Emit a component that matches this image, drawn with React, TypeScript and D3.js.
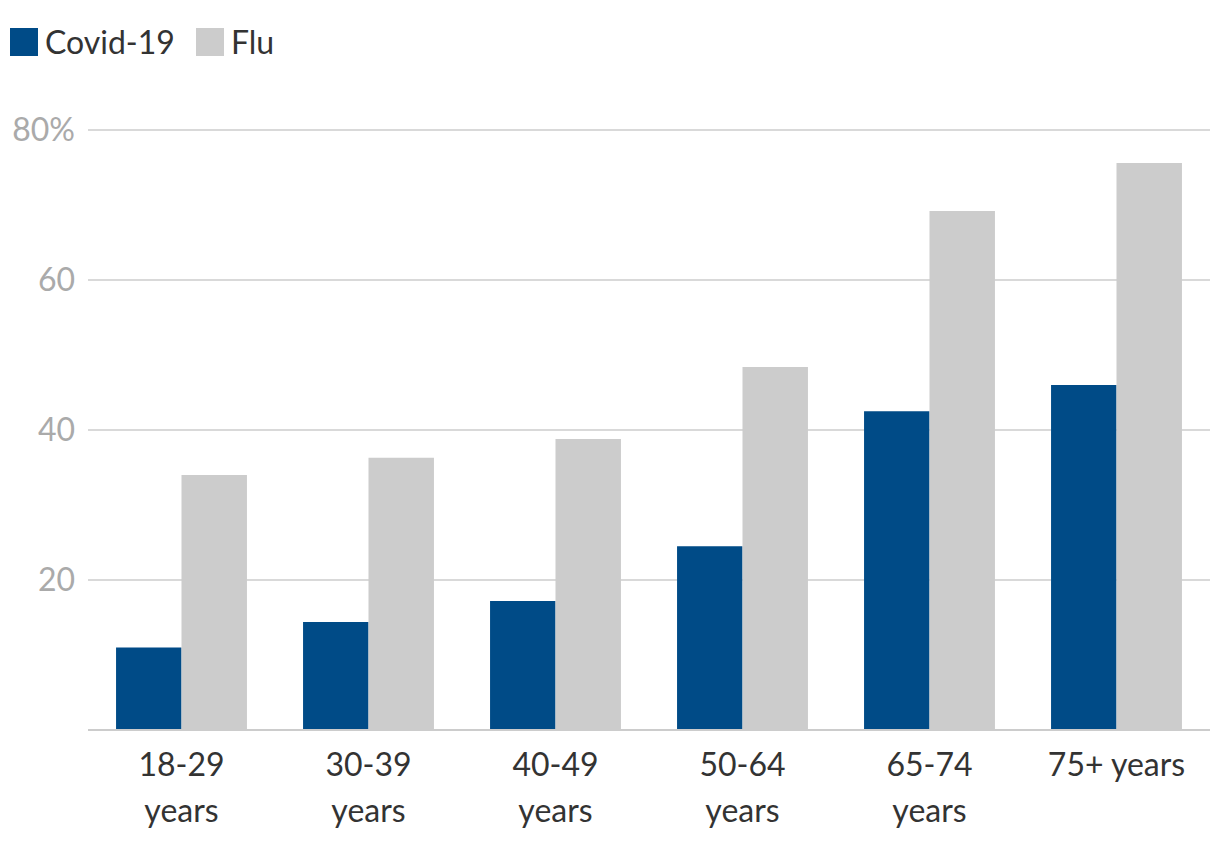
import React from "react";
import * as d3 from "d3";

const categories = ["18-29 years", "30-39 years", "40-49 years", "50-64 years", "65-74 years", "75+ years"];
const categoryLines = [["18-29", "years"], ["30-39", "years"], ["40-49", "years"], ["50-64", "years"], ["65-74", "years"], ["75+ years"]];
const seriesNames = ["Covid-19", "Flu"];
const covid = [11, 14.4, 17.2, 24.5, 42.5, 46];
const flu = [34, 36.3, 38.8, 48.4, 69.2, 75.6];
const yTicks = [20, 40, 60, 80];
const colors = ["#004b87", "#cccccc"];

const W = 1220, H = 854;
const FONT = "Lato, 'Source Sans Pro', sans-serif";
const FS = 32;

export default function App() {
  const left = 88, right = 1210, top = 130, bottom = 730;
  const x = d3.scaleBand<string>().domain(categories).range([left, right]).paddingInner(0.3).paddingOuter(0.15);
  const x1 = d3.scaleBand<string>().domain(seriesNames).range([0, x.bandwidth()]);
  const y = d3.scaleLinear().domain([0, 80]).range([bottom, top]);
  const series = [covid, flu];
  return (
    <svg width={W} height={H} style={{ position: "absolute", left: 0, top: 0, background: "#fff" }} fontFamily={FONT}>
      {yTicks.map((t) => (
        <g key={t}>
          <line x1={left} x2={right} y1={y(t)} y2={y(t)} stroke="#cccccc" strokeWidth={1.5} />
          <text x={75} y={y(t)} dy="0.35em" textAnchor="end" fontSize={FS} fill="#aaaaaa">
            {t === 80 ? "80%" : t}
          </text>
        </g>
      ))}
      {categories.map((c, i) => (
        <g key={c}>
          {series.map((s, j) => (
            <rect key={j} x={(x(c) as number) + (x1(seriesNames[j]) as number)} y={y(s[i])} width={x1.bandwidth()} height={bottom - y(s[i])} fill={colors[j]} />
          ))}
          <text x={(x(c) as number) + x.bandwidth() / 2} y={776} textAnchor="middle" fontSize={FS} fill="#333333">
            {categoryLines[i].map((l, k) => (
              <tspan key={k} x={(x(c) as number) + x.bandwidth() / 2} dy={k === 0 ? 0 : 46}>{l}</tspan>
            ))}
          </text>
        </g>
      ))}
      <line x1={left} x2={right} y1={bottom} y2={bottom} stroke="#cccccc" strokeWidth={2} />
      <g>
        <rect x={10} y={28} width={28} height={28} fill={colors[0]} />
        <text x={45} y={43} dy="0.35em" fontSize={FS} fill="#333333">{seriesNames[0]}</text>
        <rect x={196} y={28} width={28} height={28} fill={colors[1]} />
        <text x={231} y={43} dy="0.35em" fontSize={FS} fill="#333333">{seriesNames[1]}</text>
      </g>
    </svg>
  );
}
